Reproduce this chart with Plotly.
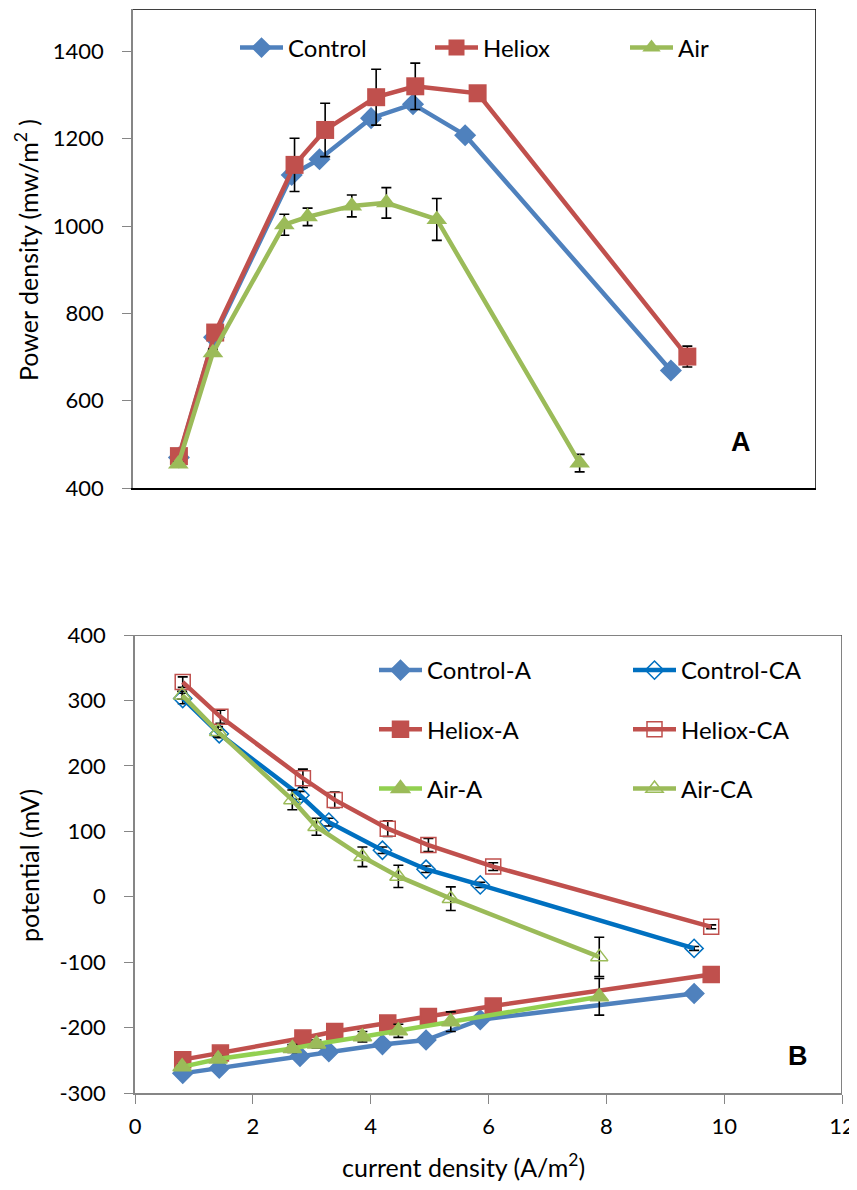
import plotly.graph_objects as go

# ---------------- data ----------------
# Panel A (power density vs current density; x axis hidden)
x_control = [0.81, 1.43, 2.80, 3.29, 4.20, 4.94, 5.86, 9.49]
x_heliox = [0.81, 1.45, 2.85, 3.39, 4.29, 4.98, 6.08, 9.78]
x_air = [0.80, 1.41, 2.67, 3.08, 3.86, 4.47, 5.36, 7.88]

pd_control = [470, 745, 1117, 1153, 1247, 1279, 1208, 669]
pd_heliox = [473, 756, 1140, 1220, 1295, 1320, 1304, 701]
pd_air = [455, 710, 1003, 1021, 1046, 1053, 1015, 457]

pd_control_err = [5, 8, 10, 10, 12, 10, 8, 5]
pd_heliox_err = [8, 10, 61, 61, 64, 53, 10, 24]
pd_air_err = [5, 8, 24, 20, 25, 35, 48, 20]

# Panel B (potential vs current density)
pot_control_a = [-270, -262, -244, -237, -226, -219, -188, -148]
pot_control_ca = [303, 249, 155, 114, 71, 42, 18, -79]
pot_heliox_a = [-249, -239, -216, -206, -193, -183, -167, -119]
pot_heliox_ca = [328, 275, 181, 148, 104, 79, 46, -46]
pot_air_a = [-260, -248, -232, -225, -214, -205, -191, -153]
pot_air_ca = [308, 252, 148, 107, 61, 31, -3, -92]

err_control_a = [3, 3, 3, 3, 3, 3, 3, 3]
err_control_ca = [8, 6, 6, 6, 5, 5, 4, 3]
err_heliox_a = [3, 3, 3, 3, 3, 3, 3, 3]
err_heliox_ca = [8, 10, 14, 12, 12, 10, 6, 3]
err_air_a = [4, 4, 6, 6, 8, 10, 15, 28]
err_air_ca = [6, 8, 15, 13, 15, 17, 18, 30]

y_ticks_a = [400, 600, 800, 1000, 1200, 1400]
y_ticks_b = [-300, -200, -100, 0, 100, 200, 300, 400]
x_ticks_b = [0, 2, 4, 6, 8, 10, 12]

# frame edges (top + right) in axis-fraction units of each panel
frame_x = [0, 1, 1]
frame_y = [1, 1, 0]

BLUE = "#4F81BD"
BLUE2 = "#0070C0"
RED = "#C0504D"
GREEN = "#9BBB59"
GREEN2 = "#92D050"
FONT = "Lato"

fig = go.Figure()


def err(arr):
    return dict(type="data", array=arr, visible=True, color="black",
                thickness=1.6, width=5)


# ---- Panel A traces ----
for name, xs, ys, es, col, sym, sz in [
    ("Control", x_control, pd_control, pd_control_err, BLUE, "diamond", 17),
    ("Heliox", x_heliox, pd_heliox, pd_heliox_err, RED, "square", 18),
    ("Air", x_air, pd_air, pd_air_err, GREEN, "triangle-up", 18),
]:
    fig.add_trace(go.Scatter(
        x=xs, y=ys, name=name, mode="lines+markers",
        line=dict(color=col, width=4.5),
        marker=dict(symbol=sym, size=sz, color=col),
        error_y=err(es), xaxis="x", yaxis="y", legend="legend",
    ))

# ---- Panel B traces ----
b_series = [
    ("Control-A", x_control, pot_control_a, err_control_a, BLUE, BLUE, "diamond", 15, "legend2"),
    ("Control-CA", x_control, pot_control_ca, err_control_ca, BLUE2, BLUE2, "diamond-open", 14, "legend3"),
    ("Heliox-A", x_heliox, pot_heliox_a, err_heliox_a, RED, RED, "square", 16, "legend2"),
    ("Heliox-CA", x_heliox, pot_heliox_ca, err_heliox_ca, RED, RED, "square-open", 15, "legend3"),
    ("Air-A", x_air, pot_air_a, err_air_a, GREEN2, GREEN, "triangle-up", 16, "legend2"),
    ("Air-CA", x_air, pot_air_ca, err_air_ca, GREEN, GREEN, "triangle-up-open", 15, "legend3"),
]
for name, xs, ys, es, lcol, mcol, sym, sz, leg in b_series:
    fig.add_trace(go.Scatter(
        x=xs, y=ys, name=name, mode="lines+markers",
        line=dict(color=lcol, width=4.5),
        marker=dict(symbol=sym, size=sz, color=mcol, line=dict(color=mcol, width=1.5)),
        error_y=err(es), xaxis="x2", yaxis="y2", legend=leg,
        legendgroup=name,
    ))

# ---- frame edges drawn on overlay axes ----
for xa, ya, col in [("x3", "y3", "black"), ("x4", "y4", "#595959")]:
    fig.add_trace(go.Scatter(
        x=frame_x, y=frame_y, mode="lines", line=dict(color=col, width=1.5),
        xaxis=xa, yaxis=ya, showlegend=False, hoverinfo="skip", cliponaxis=False,
    ))

# ---------------- layout ----------------
OFF = 8  # page body margin of the browser
W, H = 857 - OFF, 1190 - 2 * OFF
ML, MT = 125, 0
PW, PH = 709, 1085
MR = W - ML - PW
MB = H - MT - PH


def px_x(tx):
    return (tx - OFF - ML) / PW


def px_y(ty):
    return 1 - (ty - OFF - MT) / PH


def hyphen_labels(vals):
    return [str(v).replace("\u2212", "-") for v in vals]


tickfont = dict(family=FONT, size=22, color="black")
titlefont = dict(family=FONT, size=25, color="black")
legfont = dict(family=FONT, size=24, color="black")

axis_common = dict(showgrid=False, zeroline=False, automargin=False)
hidden = dict(showgrid=False, zeroline=False, automargin=False, showline=False,
              showticklabels=False, ticks="", range=[0, 1], fixedrange=True)
A_X = [px_x(133), px_x(816)]
A_Y = [px_y(488), px_y(9)]
B_X = [px_x(135), px_x(842)]
B_Y = [px_y(1093), px_y(635)]

fig.update_layout(
    width=W, height=H,
    margin=dict(l=ML, r=MR, t=MT, b=MB),
    paper_bgcolor="white", plot_bgcolor="white",
    font=dict(family=FONT, color="black"),
    xaxis=dict(domain=A_X, range=[0, 12.05],
               showticklabels=False, ticks="",
               showline=True, linecolor="black", linewidth=1.5,
               anchor="y", **axis_common),
    yaxis=dict(domain=A_Y, range=[400, 1497],
               tickvals=y_ticks_a, ticktext=hyphen_labels(y_ticks_a),
               ticks="outside", ticklen=9, tickcolor="#868686", tickwidth=1.2,
               ticklabelstandoff=14,
               tickfont=tickfont,
               showline=True, linecolor="#868686", linewidth=1.5,
               anchor="x", **axis_common),
    xaxis2=dict(domain=B_X, range=[0, 12],
                tickvals=x_ticks_b, ticktext=hyphen_labels(x_ticks_b),
                ticks="outside", ticklen=9, tickcolor="#868686", tickwidth=1.2,
                ticklabelstandoff=4,
                tickfont=tickfont,
                showline=True, linecolor="#868686", linewidth=1.5,
                anchor="y2", **axis_common),
    yaxis2=dict(domain=B_Y, range=[-300, 400],
                tickvals=y_ticks_b, ticktext=hyphen_labels(y_ticks_b),
                ticks="outside", ticklen=9, tickcolor="#868686", tickwidth=1.2,
                ticklabelstandoff=14,
                tickfont=tickfont,
                showline=True, linecolor="#868686", linewidth=1.5,
                anchor="x2", **axis_common),
    xaxis3=dict(overlaying="x", anchor="y3", **hidden),
    yaxis3=dict(overlaying="y", anchor="x3", **hidden),
    xaxis4=dict(overlaying="x2", anchor="y4", **hidden),
    yaxis4=dict(overlaying="y2", anchor="x4", **hidden),
    legend=dict(orientation="h", x=px_x(235), y=px_y(48), xanchor="left", yanchor="middle",
                font=legfont, entrywidth=137, itemwidth=43,
                bgcolor="rgba(0,0,0,0)"),
    legend2=dict(orientation="v", x=px_x(374), y=px_y(648), xanchor="left", yanchor="top",
                 font=legfont, tracegroupgap=25, itemwidth=43,
                 bgcolor="rgba(0,0,0,0)"),
    legend3=dict(orientation="v", x=px_x(628), y=px_y(648), xanchor="left", yanchor="top",
                 font=legfont, tracegroupgap=25, itemwidth=43,
                 bgcolor="rgba(0,0,0,0)"),
    showlegend=True,
)

# axis titles
fig.add_annotation(text="Power density (mw/m<sup>2</sup> )", x=px_x(27), y=px_y(250),
                   xref="paper", yref="paper", textangle=-90, showarrow=False,
                   xanchor="center", yanchor="middle", font=titlefont)
fig.add_annotation(text="potential (mV)", x=px_x(29), y=px_y(866),
                   xref="paper", yref="paper", textangle=-90, showarrow=False,
                   xanchor="center", yanchor="middle", font=titlefont)
fig.add_annotation(text="current density (A/m<sup>2</sup>)", x=px_x(463), y=px_y(1165),
                   xref="paper", yref="paper", showarrow=False,
                   xanchor="center", yanchor="middle", font=titlefont)

# panel letters
fig.add_annotation(text="<b>A</b>", x=px_x(741), y=px_y(442), xref="paper", yref="paper",
                   showarrow=False, xanchor="center", yanchor="middle",
                   font=dict(family="Liberation Sans", size=27, color="black"))
fig.add_annotation(text="<b>B</b>", x=px_x(798), y=px_y(1056), xref="paper", yref="paper",
                   showarrow=False, xanchor="center", yanchor="middle",
                   font=dict(family="Liberation Sans", size=27, color="black"))

fig.write_html("out.html")
